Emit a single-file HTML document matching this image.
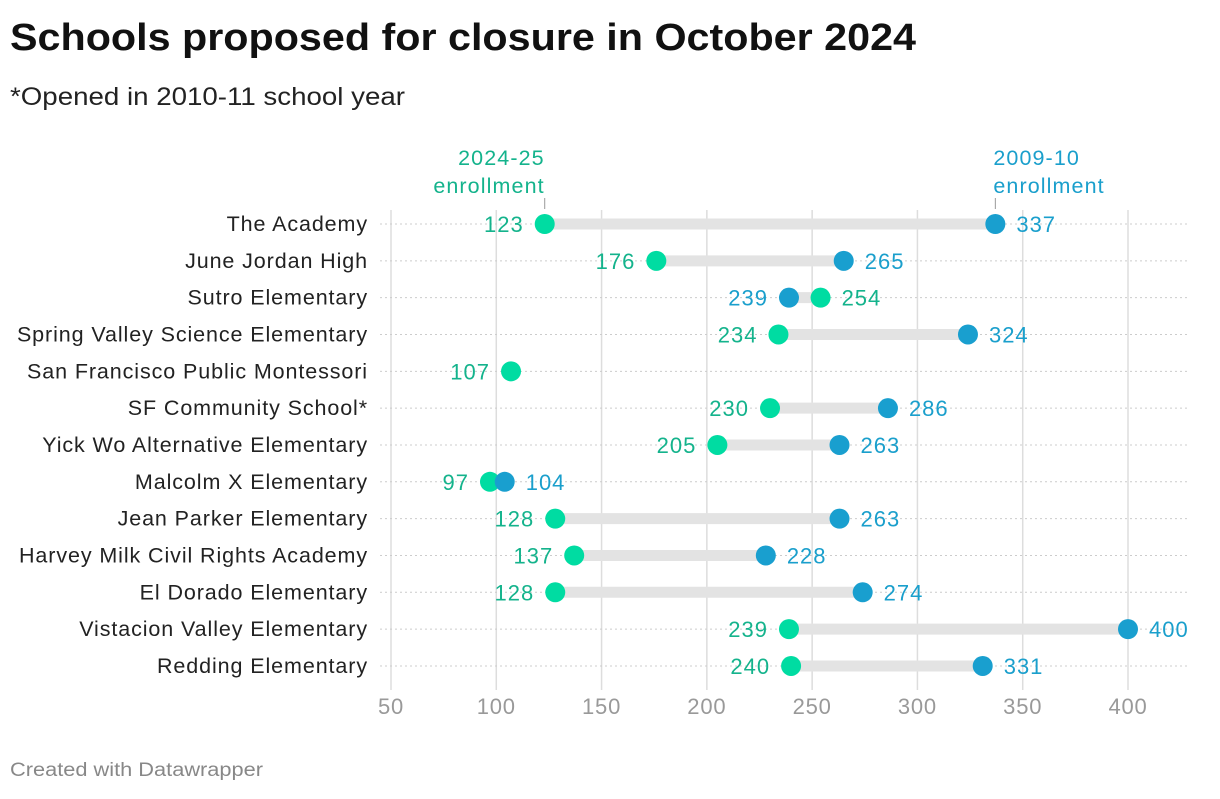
<!DOCTYPE html>
<html><head><meta charset="utf-8"><style>
body{margin:0;background:#fff;font-family:"Liberation Sans",sans-serif;}
svg text{font-family:"Liberation Sans",sans-serif;}
</style></head><body>
<svg width="1220" height="794">
<text x="10" y="50" font-size="38" font-weight="bold" fill="#111" textLength="906" lengthAdjust="spacingAndGlyphs">Schools proposed for closure in October 2024</text>
<text x="10" y="105" font-size="25" fill="#222" textLength="395" lengthAdjust="spacingAndGlyphs">*Opened in 2010-11 school year</text>
<g id="plot"></g>
<text x="10" y="776" font-size="19" fill="#888" textLength="253" lengthAdjust="spacingAndGlyphs">Created with Datawrapper</text>
</svg>
<script>
const schools=["The Academy","June Jordan High","Sutro Elementary","Spring Valley Science Elementary","San Francisco Public Montessori","SF Community School*","Yick Wo Alternative Elementary","Malcolm X Elementary","Jean Parker Elementary","Harvey Milk Civil Rights Academy","El Dorado Elementary","Vistacion Valley Elementary","Redding Elementary"];
const enroll2024=[123,176,254,234,107,230,205,97,128,137,128,239,240];
const enroll2009=[337,265,239,324,null,286,263,104,263,228,274,400,331];
const ticks=[50,100,150,200,250,300,350,400];
const G="#00dca2",GT="#14b38c",B="#199fcf",BT="#1a9fcc";
const NS="http://www.w3.org/2000/svg";
const g=document.getElementById('plot');
const x=v=>391+(v-50)*(737/350);
const y=i=>224+i*36.83;
function mk(t,a,txt){const e=document.createElementNS(NS,t);for(const k in a)e.setAttribute(k,a[k]);if(txt!=null)e.textContent=txt;g.appendChild(e);return e;}
ticks.forEach(t=>{
 let l=mk('line',{x1:x(t),x2:x(t),y1:210,y2:690,stroke:'#ddd','stroke-width':1.5});
 
 
 let tx=mk('text',{x:x(t),y:714,'font-size':22,fill:'#999','text-anchor':'middle','letter-spacing':0.8},t);
 
 
});
schools.forEach((s,i)=>{
 const yy=y(i);
 let r=mk('line',{x1:380,x2:1190,y1:yy,y2:yy,stroke:'#ccc','stroke-width':1,'stroke-dasharray':'2,3'});
 
 
 let lb=mk('text',{x:368,y:yy+7,'font-size':21.5,fill:'#222','text-anchor':'end','letter-spacing':0.9},s);
 
 
 const a=enroll2024[i],b=enroll2009[i];
 if(b!=null){
  let bar=mk('line',{x1:x(a),x2:x(b),y1:yy,y2:yy,stroke:'#e3e3e3','stroke-width':11});
  
  
 }
 const aLeft = b==null || a<b;
 let c1=mk('circle',{cx:x(a),cy:yy,r:10,fill:G});
 
 
 let t1=mk('text',{x:x(a)+(aLeft?-21:21),y:yy+8,'font-size':22,fill:GT,'text-anchor':aLeft?'end':'start','letter-spacing':1},a);
 
 
 if(b!=null){
  let c2=mk('circle',{cx:x(b),cy:yy,r:10,fill:B});
  
  
  let t2=mk('text',{x:x(b)+(aLeft?21:-21),y:yy+8,'font-size':22,fill:BT,'text-anchor':aLeft?'start':'end','letter-spacing':1},b);
  
  
 }
});
const ax=x(enroll2024[0]),bx=x(enroll2009[0]);
let a1=mk('text',{x:ax,y:165,'font-size':21.5,fill:GT,'text-anchor':'end','letter-spacing':1.1},'2024-25');


let a2=mk('text',{x:ax,y:193,'font-size':21.5,fill:GT,'text-anchor':'end','letter-spacing':1.1},'enrollment');


let a3=mk('text',{x:bx-2,y:165,'font-size':21.5,fill:BT,'text-anchor':'start','letter-spacing':1.1},'2009-10');


let a4=mk('text',{x:bx-2,y:193,'font-size':21.5,fill:BT,'text-anchor':'start','letter-spacing':1.1},'enrollment');


[ax,bx].forEach(px=>{let l=mk('line',{x1:px,x2:px,y1:198,y2:209,stroke:'#999','stroke-width':1});
 
 });
</script>
</body></html>
